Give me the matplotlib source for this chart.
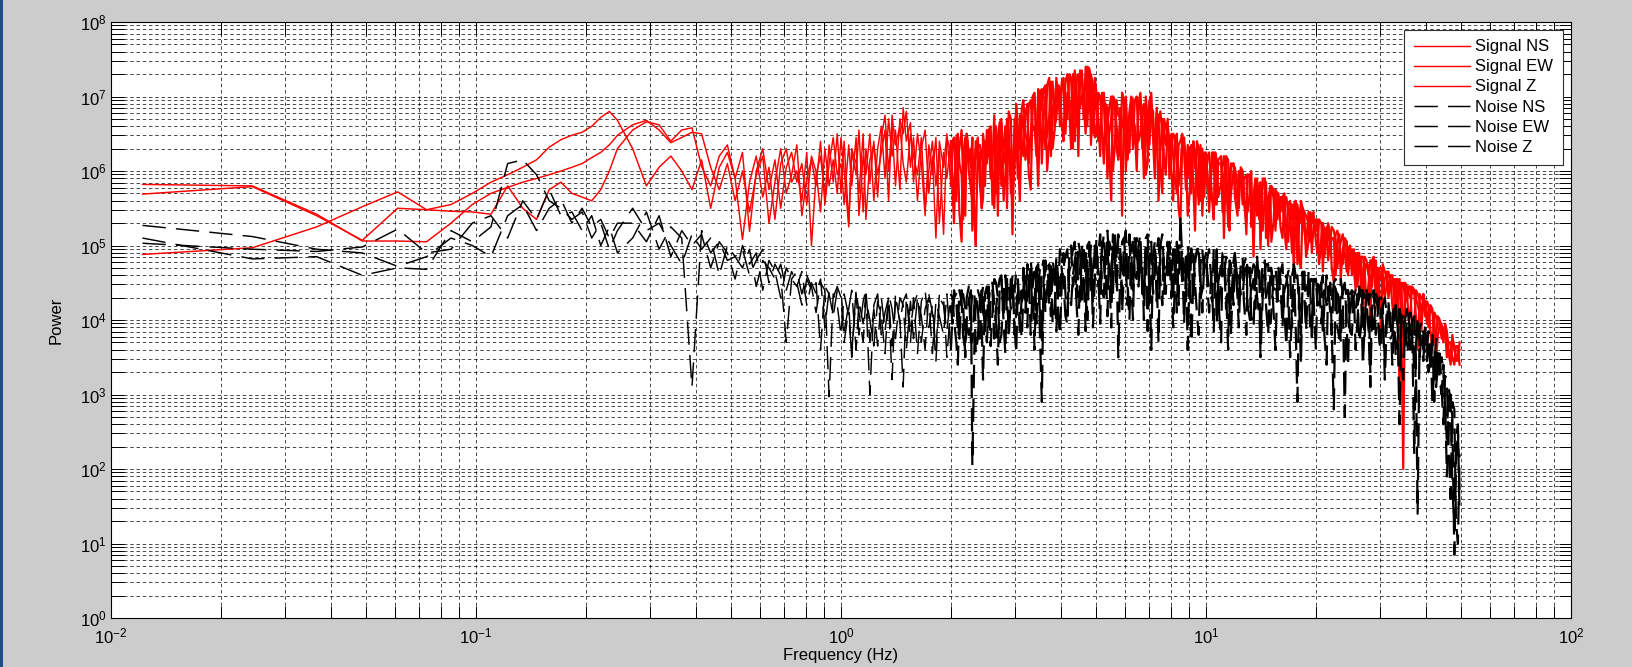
import numpy as np
import matplotlib
matplotlib.use("Agg")
import matplotlib.pyplot as plt
from matplotlib.patches import Rectangle
from matplotlib.ticker import LogLocator, NullFormatter

plt.rcParams["font.family"] = ["Liberation Sans", "DejaVu Sans"]
plt.rcParams["mathtext.default"] = "regular"

# ---------------- frequency grids (Hz) ----------------
freq_low = [0.0122, 0.0244, 0.0366, 0.0488, 0.0610, 0.0732, 0.0854, 0.0977, 0.1099, 0.1221,
            0.1343, 0.1465, 0.1587, 0.1709, 0.1831, 0.1953, 0.2075, 0.2197, 0.2319, 0.2441]
freq_mid = [0.2686, 0.2930, 0.3174, 0.3418, 0.3662, 0.3906, 0.4150, 0.4395, 0.4639, 0.4883,
            0.5127, 0.5371, 0.5615, 0.5859, 0.6104, 0.6348, 0.6592, 0.6836, 0.7080, 0.7324,
            0.7568, 0.7813, 0.8057, 0.8301, 0.8545, 0.8789, 0.9033, 0.9277, 0.9521, 0.9766]
freq_high = [1.00, 1.02, 1.05, 1.07, 1.10, 1.12, 1.15, 1.17, 1.20, 1.23,
             1.26, 1.29, 1.32, 1.35, 1.38, 1.41, 1.45, 1.48, 1.51, 1.55,
             1.58, 1.62, 1.66, 1.70, 1.74, 1.78, 1.82, 1.86, 1.91, 1.95,
             2.00, 2.04, 2.09, 2.14, 2.19, 2.24, 2.29, 2.34, 2.40, 2.45,
             2.51, 2.57, 2.63, 2.69, 2.75, 2.82, 2.88, 2.95, 3.02, 3.09,
             3.16, 3.24, 3.31, 3.39, 3.47, 3.55, 3.63, 3.72, 3.80, 3.89,
             3.98, 4.07, 4.17, 4.27, 4.37, 4.47, 4.57, 4.68, 4.79, 4.90,
             5.01, 5.13, 5.25, 5.37, 5.50, 5.62, 5.75, 5.89, 6.03, 6.17,
             6.31, 6.46, 6.61, 6.76, 6.92, 7.08, 7.24, 7.41, 7.59, 7.76,
             7.94, 8.13, 8.32, 8.51, 8.71, 8.91, 9.12, 9.33, 9.55, 9.77,
             10.0, 10.2, 10.5, 10.7, 11.0, 11.2, 11.5, 11.7, 12.0, 12.3,
             12.6, 12.9, 13.2, 13.5, 13.8, 14.1, 14.5, 14.8, 15.1, 15.5,
             15.8, 16.2, 16.6, 17.0, 17.4, 17.8, 18.2, 18.6, 19.1, 19.5,
             20.0, 20.4, 20.9, 21.4, 21.9, 22.4, 22.9, 23.4, 24.0, 24.5,
             25.1, 25.7, 26.3, 26.9, 27.5, 28.2, 28.8, 29.5, 30.2, 30.9,
             31.6, 32.4, 33.1, 33.9, 34.7, 35.5, 36.3, 37.2, 38.0, 38.9,
             39.8, 40.7, 41.7, 42.7, 43.7, 44.7, 45.7, 46.8, 47.9, 49.0]
# in-between frequencies (2-50 Hz) where the spectra are denser
freq_half = [2.02, 2.07, 2.11, 2.16, 2.21, 2.27, 2.32, 2.37, 2.43, 2.48,
             2.54, 2.60, 2.66, 2.72, 2.79, 2.85, 2.92, 2.99, 3.05, 3.13,
             3.20, 3.27, 3.35, 3.43, 3.51, 3.59, 3.67, 3.76, 3.85, 3.94,
             4.03, 4.12, 4.22, 4.32, 4.42, 4.52, 4.62, 4.73, 4.84, 4.96,
             5.07, 5.19, 5.31, 5.43, 5.56, 5.69, 5.82, 5.96, 6.10, 6.24,
             6.38, 6.53, 6.69, 6.84, 7.00, 7.16, 7.33, 7.50, 7.67, 7.85,
             8.04, 8.22, 8.41, 8.61, 8.81, 9.02, 9.23, 9.44, 9.66, 9.89,
             10.1, 10.4, 10.6, 10.8, 11.1, 11.35, 11.6, 11.9, 12.2, 12.45,
             12.7, 13.0, 13.3, 13.65, 14.0, 14.3, 14.6, 15.0, 15.3, 15.7,
             16.0, 16.4, 16.8, 17.2, 17.6, 18.0, 18.4, 18.8, 19.3, 19.7,
             20.2, 20.7, 21.1, 21.6, 22.1, 22.65, 23.2, 23.7, 24.3, 24.8,
             25.4, 26.0, 26.6, 27.2, 27.9, 28.5, 29.2, 29.85, 30.5, 31.3,
             32.0, 32.7, 33.5, 34.3, 35.1, 35.9, 36.7, 37.6, 38.5, 39.4,
             40.3, 41.2, 42.2, 43.2, 44.2, 45.2, 46.2, 47.3, 48.4, 49.5]

# ---------------- power values, log10(Power) ----------------
sig_ns_low = [5.82, 5.80, 5.42, 5.06, 5.06, 5.05, 5.30, 5.55, 5.70, 5.78,
              5.85, 5.90, 5.95, 6.00, 6.05, 6.10, 6.18, 6.25, 6.35, 6.48]
sig_ns_mid = [6.62, 6.68, 6.55, 6.38, 6.45, 6.52, 6.50, 6.05, 5.75, 6.10,
              5.60, 6.00, 5.45, 5.95, 6.20, 5.30, 5.85, 6.30, 5.70, 5.95,
              6.35, 5.40, 5.90, 6.15, 5.80, 6.40, 5.55, 6.10, 6.45, 5.95]
sig_ns_high = [6.10, 5.55, 6.35, 5.80, 6.45, 5.40, 6.20, 5.95, 6.50, 5.60,
               6.30, 6.60, 5.90, 6.70, 6.20, 6.55, 5.75, 6.85, 6.40, 6.65,
               5.85, 6.50, 6.10, 5.40, 6.35, 5.95, 6.45, 5.30, 6.25, 5.90,
               6.40, 5.70, 6.20, 5.05, 6.45, 6.00, 5.60, 6.30, 5.85, 6.50,
               6.10, 6.60, 5.50, 6.45, 6.70, 5.95, 6.35, 5.15, 6.55, 6.75,
               6.20, 6.90, 6.50, 7.05, 5.80, 6.85, 7.15, 6.40, 7.20, 6.70,
               7.10, 6.40, 7.30, 6.90, 7.35, 6.20, 7.25, 7.40, 6.80, 7.15,
               6.50, 7.00, 6.10, 6.85, 5.60, 6.95, 6.40, 7.05, 6.00, 6.80,
               6.95, 6.30, 7.05, 5.90, 6.70, 6.85, 6.20, 6.75, 5.70, 6.60,
               6.45, 5.60, 6.50, 6.00, 6.35, 5.40, 6.30, 6.05, 5.55, 6.30,
               6.20, 5.45, 6.25, 5.80, 6.10, 5.10, 6.15, 5.70, 6.05, 5.50,
               6.00, 5.30, 5.95, 5.60, 5.85, 4.95, 5.90, 5.50, 5.75, 5.20,
               5.70, 5.10, 5.65, 5.40, 5.55, 4.75, 5.60, 5.20, 5.45, 4.90,
               5.35, 4.80, 5.30, 5.00, 5.15, 4.50, 5.20, 4.85, 5.00, 4.60,
               4.95, 4.40, 4.90, 4.60, 4.80, 3.90, 4.85, 4.50, 4.70, 4.30,
               4.65, 4.20, 4.55, 3.00, 4.50, 4.25, 4.45, 3.95, 4.35, 4.10,
               4.25, 3.90, 4.15, 3.80, 4.00, 3.70, 3.85, 3.55, 3.65, 3.55]
sig_ns_half = [5.90, 6.35, 5.45, 6.20, 6.40, 5.75, 6.10, 6.45, 5.50, 6.25,
               6.55, 5.80, 6.30, 6.65, 5.60, 6.50, 6.20, 6.70, 5.90, 6.40,
               6.75, 6.10, 7.00, 6.45, 6.80, 7.10, 6.00, 6.95, 6.60, 7.15,
               6.60, 7.20, 6.95, 6.30, 7.10, 7.35, 6.70, 7.00, 7.30, 6.45,
               7.05, 6.55, 6.90, 6.30, 7.00, 6.60, 6.20, 6.95, 6.50, 7.00,
               6.40, 6.90, 6.60, 7.00, 6.35, 6.80, 6.55, 6.05, 6.70, 6.45,
               6.00, 6.40, 5.80, 6.45, 6.20, 5.70, 6.35, 5.95, 6.30, 5.65,
               5.95, 6.20, 5.55, 6.10, 5.90, 6.20, 5.35, 6.00, 5.80, 6.05,
               5.60, 5.95, 5.25, 5.85, 5.70, 5.90, 5.10, 5.80, 5.65, 5.70,
               5.25, 5.60, 5.45, 4.90, 5.60, 5.30, 5.50, 5.00, 5.40, 5.25,
               5.30, 4.95, 5.20, 5.30, 4.70, 5.15, 5.05, 4.75, 5.05, 4.90,
               4.70, 4.90, 4.35, 4.85, 4.70, 4.80, 4.25, 4.70, 4.60, 4.50,
               4.55, 4.00, 4.55, 4.45, 4.30, 4.45, 3.85, 4.40, 4.25, 4.30,
               4.10, 4.20, 3.70, 4.05, 3.90, 3.95, 3.60, 3.75, 3.45, 3.60]

sig_ew_low = [5.69, 5.79, 5.40, 5.07, 5.50, 5.48, 5.55, 5.70, 5.85, 5.95,
              6.05, 6.15, 6.32, 6.42, 6.48, 6.52, 6.60, 6.72, 6.80, 6.68]
sig_ew_mid = [6.30, 5.80, 6.05, 6.20, 6.00, 5.75, 6.15, 5.50, 6.05, 6.25,
              5.90, 5.08, 5.85, 6.20, 5.65, 6.05, 5.35, 6.10, 6.30, 5.85,
              6.00, 5.60, 6.25, 5.00, 5.95, 6.20, 5.65, 6.35, 5.85, 6.50]
sig_ew_high = [5.70, 6.40, 5.30, 6.25, 5.95, 6.55, 5.45, 6.30, 5.85, 6.40,
               5.65, 6.45, 6.75, 6.00, 6.60, 5.80, 6.70, 6.50, 6.80, 6.05,
               6.45, 5.60, 6.30, 6.55, 5.70, 6.20, 5.10, 6.40, 6.05, 6.50,
               5.80, 6.45, 6.15, 6.55, 5.40, 6.25, 6.45, 5.00, 6.35, 6.10,
               6.55, 5.90, 6.75, 6.20, 5.80, 6.60, 6.80, 5.70, 6.90, 6.30,
               6.95, 6.40, 5.75, 7.00, 6.60, 7.10, 6.30, 7.25, 6.85, 7.20,
               6.60, 7.25, 7.05, 6.30, 7.30, 6.95, 7.35, 6.50, 7.38, 6.90,
               7.05, 6.20, 6.90, 6.60, 7.00, 6.30, 6.75, 5.40, 6.90, 6.45,
               6.30, 7.00, 6.50, 6.90, 6.10, 7.05, 6.40, 5.60, 6.70, 6.35,
               5.90, 6.50, 6.10, 5.30, 6.45, 5.90, 6.35, 5.20, 6.30, 5.75,
               5.90, 6.25, 5.35, 6.15, 5.85, 6.20, 5.40, 6.05, 5.85, 6.00,
               5.55, 5.95, 5.70, 4.85, 5.90, 5.40, 5.80, 5.65, 5.05, 5.75,
               5.40, 5.65, 4.95, 5.60, 5.35, 5.50, 4.70, 5.45, 5.30, 5.40,
               5.05, 5.35, 4.65, 5.25, 5.05, 5.20, 4.70, 5.05, 4.90, 4.95,
               4.60, 4.90, 4.75, 4.85, 4.20, 4.80, 4.65, 4.70, 3.80, 4.65,
               4.40, 4.60, 4.10, 4.55, 2.00, 4.45, 4.30, 4.35, 3.60, 4.30,
               4.05, 4.20, 3.60, 4.05, 3.95, 3.90, 3.50, 3.70, 3.40, 3.65]
sig_ew_half = [6.40, 5.60, 6.30, 5.95, 6.50, 6.05, 5.40, 6.35, 6.20, 5.80,
               6.45, 6.10, 5.70, 6.60, 6.35, 5.50, 6.70, 6.05, 6.55, 6.85,
               6.50, 5.95, 6.85, 6.30, 7.05, 6.55, 7.15, 6.20, 6.90, 7.10,
               7.20, 6.50, 6.85, 7.30, 6.60, 7.15, 6.90, 7.40, 6.35, 7.25,
               6.70, 7.05, 6.35, 6.85, 6.00, 6.95, 6.70, 6.90, 6.15, 6.85,
               6.95, 6.40, 6.80, 5.95, 6.90, 6.50, 6.85, 6.25, 6.50, 6.70,
               6.30, 6.45, 5.50, 6.40, 6.05, 6.30, 5.85, 6.40, 5.60, 6.25,
               6.20, 5.60, 6.25, 5.65, 6.05, 5.95, 5.20, 6.10, 5.60, 5.95,
               5.90, 5.45, 6.00, 5.75, 5.35, 5.85, 5.55, 5.75, 5.30, 5.70,
               5.65, 5.20, 5.55, 5.35, 5.60, 4.80, 5.50, 5.40, 5.05, 5.45,
               4.90, 5.30, 5.15, 4.80, 5.25, 5.05, 4.95, 5.15, 4.65, 5.00,
               4.90, 4.55, 4.85, 4.70, 4.50, 4.80, 4.60, 4.40, 4.75, 4.55,
               4.60, 4.35, 4.50, 3.90, 4.50, 4.35, 4.40, 4.05, 4.35, 4.25,
               4.25, 3.85, 4.10, 3.95, 3.75, 3.85, 3.70, 3.50, 3.65, 3.40]

sig_z_low = [4.88, 4.97, 5.25, 5.52, 5.72, 5.48, 5.46, 5.45, 5.42, 5.80,
             5.50, 5.35, 5.75, 5.85, 5.70, 5.65, 5.60, 5.75, 6.00, 6.30]
sig_z_mid = [6.55, 6.66, 6.62, 6.40, 6.55, 6.58, 6.06, 5.80, 6.20, 6.35,
             5.90, 6.25, 5.19, 6.00, 6.30, 5.75, 6.15, 5.50, 6.05, 6.25,
             5.85, 6.10, 5.55, 6.20, 5.99, 5.45, 6.30, 5.80, 6.15, 5.70]
sig_z_high = [6.45, 6.00, 5.25, 6.30, 6.10, 5.70, 6.50, 5.35, 6.15, 6.35,
              5.95, 6.25, 6.55, 5.60, 6.75, 6.35, 6.60, 6.10, 5.85, 6.50,
              6.20, 5.95, 6.45, 5.50, 6.00, 6.40, 5.80, 6.30, 5.15, 6.45,
              6.25, 5.30, 6.50, 5.95, 6.35, 6.15, 5.20, 6.40, 6.25, 5.65,
              6.30, 6.50, 6.00, 5.40, 6.65, 6.25, 6.55, 6.00, 6.80, 5.60,
              6.70, 6.35, 6.95, 6.60, 7.10, 6.10, 7.00, 6.75, 6.30, 7.25,
              6.85, 7.15, 6.70, 7.25, 6.40, 7.30, 7.00, 6.70, 7.35, 6.50,
              6.80, 6.45, 7.05, 5.90, 6.70, 6.95, 6.15, 6.65, 7.00, 6.25,
              6.70, 6.00, 6.95, 6.55, 6.25, 6.90, 5.90, 6.65, 6.50, 5.95,
              6.35, 6.20, 5.70, 6.40, 6.25, 6.35, 5.70, 6.25, 6.10, 5.40,
              6.25, 5.75, 6.00, 5.55, 6.20, 5.95, 5.25, 6.10, 5.65, 5.95,
              5.75, 5.15, 5.95, 5.65, 5.40, 5.85, 5.70, 5.00, 5.80, 5.55,
              5.55, 5.65, 5.20, 5.50, 4.65, 5.55, 5.35, 5.40, 5.05, 5.35,
              5.20, 4.75, 5.30, 5.10, 4.95, 5.10, 5.05, 4.55, 5.10, 4.80,
              4.90, 4.55, 4.85, 3.95, 4.75, 4.60, 4.75, 4.20, 4.65, 4.55,
              4.30, 4.55, 4.40, 4.50, 3.50, 4.40, 4.10, 4.40, 4.20, 3.85,
              4.20, 4.00, 4.10, 3.50, 3.95, 3.75, 3.80, 3.40, 3.60, 3.45]
sig_z_half = [5.75, 6.45, 6.10, 5.35, 6.50, 6.30, 5.85, 6.15, 5.50, 6.40,
              6.20, 5.55, 6.60, 6.45, 6.10, 6.70, 5.70, 6.55, 6.30, 6.75,
              6.15, 6.90, 6.55, 6.20, 6.95, 6.70, 6.45, 7.20, 6.55, 6.85,
              7.20, 6.75, 7.30, 6.55, 7.25, 6.85, 7.10, 6.60, 7.20, 7.05,
              6.40, 6.95, 6.75, 6.50, 7.00, 6.30, 6.85, 6.55, 6.45, 6.95,
              6.60, 6.85, 6.30, 6.75, 6.95, 6.45, 6.70, 6.80, 6.20, 6.65,
              6.50, 5.90, 6.35, 6.50, 5.75, 6.15, 6.40, 5.80, 6.35, 6.10,
              5.75, 6.25, 5.95, 6.15, 5.45, 6.10, 5.90, 6.10, 5.40, 6.00,
              5.80, 5.95, 5.50, 5.90, 5.75, 5.20, 5.85, 5.60, 5.75, 5.35,
              5.45, 5.70, 5.05, 5.55, 5.45, 5.30, 5.50, 4.85, 5.45, 5.30,
              5.35, 5.10, 4.85, 5.20, 5.10, 4.60, 5.15, 4.95, 5.05, 4.80,
              4.95, 4.45, 4.80, 4.75, 4.60, 4.45, 4.80, 4.55, 4.35, 4.65,
              4.45, 4.55, 4.25, 4.50, 4.40, 4.00, 4.45, 4.30, 4.10, 4.35,
              3.95, 4.15, 4.05, 3.80, 3.95, 3.85, 3.55, 3.80, 3.50, 3.70]

noise_ns_low = [5.27, 5.12, 4.95, 4.90, 4.72, 4.85, 5.10, 5.00, 4.85, 5.40,
                5.55, 5.20, 5.50, 5.62, 5.30, 5.50, 5.25, 5.35, 5.10, 5.30]
noise_ns_mid = [5.30, 5.05, 5.40, 4.85, 5.20, 5.00, 5.15, 4.70, 5.05, 4.90,
                4.55, 5.00, 4.75, 4.90, 4.40, 4.80, 4.65, 4.30, 4.70, 4.55,
                4.45, 4.65, 4.20, 4.50, 4.35, 4.55, 3.90, 4.40, 4.30, 4.45]
noise_ns_high = [4.30, 3.70, 4.15, 4.40, 3.60, 4.25, 3.95, 4.35, 3.00, 4.20,
                 4.35, 3.80, 4.10, 4.30, 3.65, 4.25, 4.00, 3.10, 4.30, 3.90,
                 4.20, 4.35, 3.70, 4.15, 4.30, 3.55, 4.25, 4.05, 3.80, 4.35,
                 3.60, 4.30, 4.10, 4.40, 3.50, 4.25, 2.05, 4.35, 3.75, 4.45,
                 4.20, 3.65, 4.55, 4.30, 3.80, 4.60, 4.00, 4.50, 3.55, 4.45,
                 4.70, 3.90, 4.60, 4.25, 4.75, 2.90, 4.65, 4.40, 4.80, 3.85,
                 4.95, 4.50, 3.95, 5.00, 4.60, 5.05, 4.20, 4.90, 4.70, 3.90,
                 5.10, 4.60, 5.15, 4.05, 4.95, 5.20, 3.50, 5.05, 4.70, 5.15,
                 4.40, 5.10, 4.80, 4.00, 5.15, 4.60, 5.05, 3.70, 4.95, 4.75,
                 5.05, 4.30, 4.90, 5.40, 3.95, 4.85, 5.00, 4.50, 3.80, 4.95,
                 4.70, 4.95, 3.85, 4.80, 4.55, 4.90, 3.60, 4.75, 4.85, 4.20,
                 4.85, 3.80, 4.70, 4.55, 4.80, 3.50, 4.65, 4.75, 4.10, 4.70,
                 4.40, 4.75, 3.65, 4.60, 4.70, 2.90, 4.55, 4.30, 4.65, 3.70,
                 4.55, 4.20, 4.60, 3.40, 4.45, 4.50, 3.90, 4.55, 2.70, 4.40,
                 4.35, 3.60, 4.45, 4.20, 4.35, 3.30, 4.40, 4.05, 4.30, 3.50,
                 4.20, 3.80, 4.15, 2.60, 4.10, 4.00, 3.60, 4.05, 1.40, 3.95,
                 3.85, 3.30, 3.80, 3.55, 3.20, 3.40, 2.40, 2.90, 1.20, 2.60]
noise_ns_half = [4.05, 4.35, 3.75, 4.25, 4.00, 4.40, 3.65, 4.15, 4.30, 3.85,
                 4.45, 4.10, 4.50, 3.70, 4.35, 4.20, 4.55, 3.90, 4.40, 4.25,
                 4.35, 4.65, 4.10, 4.70, 3.75, 4.55, 4.75, 4.05, 4.60, 4.45,
                 4.65, 4.05, 4.85, 4.45, 4.30, 4.90, 4.60, 4.00, 5.00, 4.55,
                 4.45, 4.95, 4.70, 5.05, 4.35, 4.85, 4.60, 5.10, 4.20, 4.90,
                 4.95, 4.45, 4.70, 5.10, 4.30, 4.85, 4.55, 5.00, 4.35, 4.60,
                 4.55, 4.95, 4.20, 4.80, 4.65, 4.30, 4.90, 4.10, 4.75, 4.60,
                 4.85, 4.35, 4.65, 4.05, 4.90, 4.40, 4.80, 4.20, 4.55, 4.75,
                 4.25, 4.70, 4.40, 4.15, 4.65, 4.30, 4.75, 3.95, 4.55, 4.40,
                 4.65, 4.10, 4.45, 4.60, 3.95, 4.50, 4.65, 3.85, 4.45, 4.50,
                 4.20, 4.50, 3.80, 4.45, 4.25, 4.55, 3.75, 4.35, 4.40, 4.05,
                 4.40, 4.00, 4.30, 3.75, 4.35, 4.20, 3.80, 4.30, 3.95, 4.20,
                 3.75, 4.15, 3.90, 4.05, 3.60, 4.10, 3.85, 3.40, 3.90, 3.60,
                 3.70, 3.45, 2.90, 3.60, 3.00, 2.80, 3.10, 1.80, 2.40, 1.40]

noise_ew_low = [5.03, 4.95, 4.92, 4.98, 5.22, 4.90, 4.95, 5.30, 5.40, 5.10,
                5.60, 5.35, 5.75, 5.40, 5.45, 5.20, 5.40, 5.00, 5.25, 4.90]
noise_ew_mid = [5.10, 5.45, 4.95, 5.25, 5.10, 3.10, 5.20, 4.90, 5.05, 4.80,
                4.85, 4.95, 4.60, 4.80, 4.95, 4.50, 4.75, 4.60, 3.70, 4.55,
                4.65, 4.35, 4.60, 4.45, 4.10, 4.50, 4.40, 2.97, 4.35, 4.20]
noise_ew_high = [3.80, 4.35, 4.05, 3.55, 4.40, 4.10, 3.70, 4.30, 4.00, 3.65,
                 4.25, 4.05, 3.55, 4.35, 4.15, 3.75, 4.30, 4.20, 3.60, 4.25,
                 3.75, 4.30, 4.05, 3.60, 4.35, 4.10, 3.45, 4.30, 4.20, 3.85,
                 4.35, 4.00, 3.40, 4.30, 4.15, 3.80, 4.40, 3.55, 4.25, 4.10,
                 3.70, 4.50, 4.20, 3.40, 4.55, 4.35, 3.75, 4.60, 4.10, 3.85,
                 4.55, 4.75, 3.80, 4.65, 4.45, 3.70, 4.80, 4.20, 3.95, 4.85,
                 4.30, 4.90, 4.05, 4.75, 5.05, 3.80, 4.85, 4.55, 5.00, 4.25,
                 4.70, 5.15, 4.30, 4.90, 3.90, 5.10, 4.75, 4.35, 5.20, 4.00,
                 5.05, 4.55, 5.15, 4.30, 3.85, 5.05, 4.65, 5.10, 4.20, 4.90,
                 4.60, 3.90, 5.05, 4.70, 4.40, 5.00, 3.70, 4.85, 5.00, 4.40,
                 4.90, 4.10, 4.75, 4.95, 3.70, 4.85, 4.50, 4.15, 4.90, 3.90,
                 4.65, 4.85, 4.00, 4.75, 4.30, 3.70, 4.80, 4.45, 4.70, 3.60,
                 4.70, 4.20, 4.60, 3.50, 4.75, 4.45, 3.80, 4.60, 4.35, 4.55,
                 3.60, 4.55, 4.35, 4.20, 4.50, 2.80, 4.45, 4.25, 4.50, 3.40,
                 4.40, 4.10, 3.70, 4.40, 4.25, 3.10, 4.35, 4.20, 3.60, 4.30,
                 4.05, 3.40, 4.20, 4.10, 3.20, 4.15, 3.90, 2.20, 4.05, 3.70,
                 3.90, 3.60, 2.90, 3.75, 3.40, 3.30, 1.90, 3.00, 0.85, 2.50]
noise_ew_half = [4.30, 3.70, 4.20, 4.35, 3.90, 4.10, 4.35, 3.75, 4.40, 4.00,
                 4.25, 4.50, 3.95, 4.40, 4.10, 4.55, 4.30, 3.80, 4.50, 4.35,
                 4.10, 4.60, 4.45, 3.95, 4.70, 4.35, 4.60, 4.75, 4.15, 4.55,
                 4.80, 4.35, 4.65, 4.95, 4.20, 4.70, 5.00, 4.45, 4.75, 5.00,
                 4.90, 4.40, 5.00, 4.65, 5.10, 4.50, 4.90, 5.05, 4.45, 4.95,
                 4.60, 5.00, 4.40, 4.90, 4.75, 4.35, 4.95, 4.50, 4.85, 5.05,
                 4.80, 4.45, 4.65, 4.95, 4.25, 4.75, 4.55, 4.90, 4.30, 4.80,
                 4.40, 4.75, 4.55, 4.30, 4.85, 4.15, 4.70, 4.80, 4.30, 4.65,
                 4.75, 4.20, 4.60, 4.70, 4.05, 4.55, 4.30, 4.70, 4.15, 4.60,
                 4.25, 4.55, 4.40, 4.10, 4.60, 4.35, 4.50, 4.05, 4.55, 4.30,
                 4.45, 3.95, 4.40, 4.25, 3.85, 4.45, 4.10, 4.40, 3.95, 4.35,
                 4.10, 4.35, 3.90, 4.30, 3.85, 4.15, 4.25, 3.70, 4.20, 4.05,
                 4.10, 3.85, 3.95, 3.50, 4.00, 3.75, 3.95, 3.65, 3.80, 3.45,
                 3.45, 3.75, 3.35, 3.20, 3.50, 2.95, 2.50, 2.70, 2.10, 1.70]

noise_z_low = [5.10, 4.82, 4.85, 4.60, 4.70, 4.68, 5.20, 5.05, 5.25, 6.10,
               6.15, 5.95, 5.60, 5.50, 5.35, 5.45, 5.10, 5.30, 4.95, 5.20]
noise_z_mid = [5.50, 5.20, 5.30, 5.00, 4.75, 5.15, 4.95, 5.10, 4.60, 5.00,
               4.85, 4.70, 4.95, 4.45, 4.80, 4.70, 4.55, 4.75, 4.40, 4.65,
               4.50, 4.20, 4.55, 4.40, 4.50, 3.60, 4.45, 4.35, 4.05, 4.40]
noise_z_high = [4.40, 3.85, 4.20, 3.50, 4.35, 3.80, 4.25, 4.40, 3.70, 4.15,
                3.65, 4.30, 3.85, 4.25, 3.20, 4.35, 3.95, 4.25, 4.35, 3.70,
                4.30, 3.55, 4.25, 4.40, 3.90, 4.20, 3.60, 4.35, 4.30, 3.50,
                4.20, 4.40, 3.85, 4.25, 3.60, 4.45, 3.70, 4.20, 4.30, 3.20,
                4.45, 4.30, 3.75, 4.40, 4.60, 3.55, 4.50, 4.35, 4.65, 4.00,
                4.40, 4.25, 4.80, 3.60, 4.55, 4.70, 4.10, 4.75, 4.50, 4.60,
                3.80, 4.70, 4.95, 4.20, 4.80, 4.40, 5.00, 3.85, 5.05, 4.70,
                4.95, 3.95, 4.80, 5.20, 4.45, 4.85, 5.15, 4.10, 4.90, 5.10,
                4.00, 4.85, 5.00, 4.45, 4.90, 3.60, 4.95, 4.70, 5.15, 4.35,
                4.85, 4.95, 4.10, 5.00, 4.60, 3.60, 4.95, 4.75, 4.90, 4.10,
                4.80, 4.40, 4.95, 3.95, 4.75, 4.60, 4.80, 3.80, 4.75, 4.60,
                4.30, 4.80, 4.60, 3.90, 4.85, 4.40, 4.65, 3.80, 4.70, 4.50,
                4.65, 3.90, 4.50, 4.70, 4.25, 4.60, 3.40, 4.65, 4.50, 3.95,
                4.55, 4.40, 3.80, 4.60, 4.10, 4.50, 4.35, 3.70, 4.45, 4.40,
                3.80, 4.40, 4.30, 3.40, 4.40, 4.35, 3.80, 4.30, 4.15, 3.20,
                4.25, 4.00, 3.50, 4.15, 4.05, 3.70, 4.10, 3.30, 3.95, 3.80,
                3.50, 3.85, 3.70, 3.10, 3.55, 2.60, 3.20, 1.60, 2.80, 1.00]
noise_z_half = [3.95, 4.25, 4.40, 3.80, 4.30, 3.70, 4.20, 4.40, 3.90, 4.35,
                3.85, 4.40, 4.15, 4.55, 3.95, 4.50, 4.15, 4.40, 4.60, 3.75,
                4.65, 4.30, 4.50, 4.70, 4.05, 4.80, 4.40, 4.35, 4.70, 4.05,
                4.55, 4.85, 4.30, 4.60, 4.95, 4.25, 4.70, 5.00, 4.40, 4.85,
                4.60, 5.05, 4.35, 4.75, 5.15, 4.40, 4.95, 4.65, 5.00, 4.50,
                5.10, 4.65, 4.35, 5.05, 4.60, 4.90, 4.25, 5.00, 4.70, 4.95,
                4.30, 4.75, 5.00, 4.50, 4.85, 4.70, 4.25, 4.95, 4.55, 4.80,
                4.60, 4.25, 4.90, 4.50, 4.65, 4.85, 4.10, 4.70, 4.45, 4.35,
                4.55, 4.70, 4.05, 4.65, 4.45, 4.75, 4.20, 4.60, 4.40, 4.25,
                4.55, 4.40, 4.65, 3.90, 4.55, 4.20, 4.60, 4.40, 3.85, 4.55,
                4.35, 4.50, 4.20, 4.45, 3.80, 4.40, 4.15, 4.45, 4.30, 3.85,
                4.30, 4.20, 4.40, 3.90, 4.25, 4.05, 4.35, 3.75, 4.20, 4.00,
                3.90, 4.15, 3.75, 4.00, 3.90, 3.55, 4.00, 3.70, 3.50, 3.85,
                3.60, 3.30, 3.65, 3.40, 3.10, 3.25, 2.30, 2.90, 1.30, 2.20]

labels = ["Signal NS", "Signal EW", "Signal Z", "Noise NS", "Noise EW", "Noise Z"]
series_data = [
    (sig_ns_low, sig_ns_mid, sig_ns_high, sig_ns_half),
    (sig_ew_low, sig_ew_mid, sig_ew_high, sig_ew_half),
    (sig_z_low, sig_z_mid, sig_z_high, sig_z_half),
    (noise_ns_low, noise_ns_mid, noise_ns_high, noise_ns_half),
    (noise_ew_low, noise_ew_mid, noise_ew_high, noise_ew_half),
    (noise_z_low, noise_z_mid, noise_z_high, noise_z_half),
]


def assemble(low, mid, high, half):
    f, p = [], []
    for fg, vals in ((freq_low, low), (freq_mid, mid), (freq_high, high), (freq_half, half)):
        n = min(len(fg), len(vals))
        f.extend(fg[:n])
        p.extend(vals[:n])
    f = np.array(f)
    p = np.array(p)
    order = np.argsort(f, kind="stable")
    return f[order], np.power(10.0, p[order])


W, H = 1633, 667
FS = 12
LW_SPARSE, LW_DENSE = 1.05, 1.6   # the spectra are much denser above ~2 Hz
F_SPLIT = 2.0
fig = plt.figure(figsize=(W / 100, H / 100), dpi=100, facecolor="#cccccc")
fig.patches.append(Rectangle((0, 0), 3 / W, 1, transform=fig.transFigure,
                             facecolor="#1f4e8c", edgecolor="none"))
ax = fig.add_axes([111 / W, 49 / H, 1460 / W, 596 / H])
ax.set_facecolor("white")

for i, (lbl, parts) in enumerate(zip(labels, series_data)):
    f, p = assemble(*parts)
    lo = f <= F_SPLIT
    hi = f >= F_SPLIT
    if i < 3:
        kw = dict(color="#ff0000")
        ls_lo, ls_hi = "-", "-"
    else:
        kw = dict(color="black")
        ls_lo = (0, (16, 7))
        ls_hi = (0, (16 * LW_SPARSE / LW_DENSE, 7 * LW_SPARSE / LW_DENSE))
    ax.plot(f[lo], p[lo], lw=LW_SPARSE, linestyle=ls_lo, label=lbl, **kw)
    ax.plot(f[hi], p[hi], lw=LW_DENSE, linestyle=ls_hi, label="_nolegend_", **kw)

ax.set_xscale("log")
ax.set_yscale("log")
ax.set_xlim(1e-2, 1e2)
ax.set_ylim(1e0, 1e8)
ax.xaxis.set_major_locator(LogLocator(base=10, numticks=20))
ax.yaxis.set_major_locator(LogLocator(base=10, numticks=20))
ax.xaxis.set_minor_locator(LogLocator(base=10, subs=np.arange(2, 10), numticks=200))
ax.yaxis.set_minor_locator(LogLocator(base=10, subs=np.arange(2, 10), numticks=200))
ax.xaxis.set_minor_formatter(NullFormatter())
ax.yaxis.set_minor_formatter(NullFormatter())

ax.grid(True, which="both", color="black", linestyle=(0, (5, 4)), linewidth=0.5)
ax.tick_params(which="both", direction="in", top=True, right=True,
               length=9, width=0.7, colors="black", labelsize=FS)
ax.tick_params(axis="x", which="major", pad=6)
ax.tick_params(axis="y", which="major", pad=3)
for s in ax.spines.values():
    s.set_linewidth(0.8)
    s.set_color("black")

ax.set_xlabel("Frequency (Hz)", fontsize=FS, labelpad=1)
ax.set_ylabel("Power", fontsize=FS, labelpad=12)

leg = ax.legend(loc="upper right", fontsize=FS, frameon=True, fancybox=False,
                edgecolor="#303030", framealpha=1, borderaxespad=0.45,
                handlelength=3.4, labelspacing=0.3, borderpad=0.6,
                handletextpad=0.3)
leg.get_frame().set_linewidth(0.8)

fig.savefig("out.png", dpi=100, facecolor=fig.get_facecolor())
